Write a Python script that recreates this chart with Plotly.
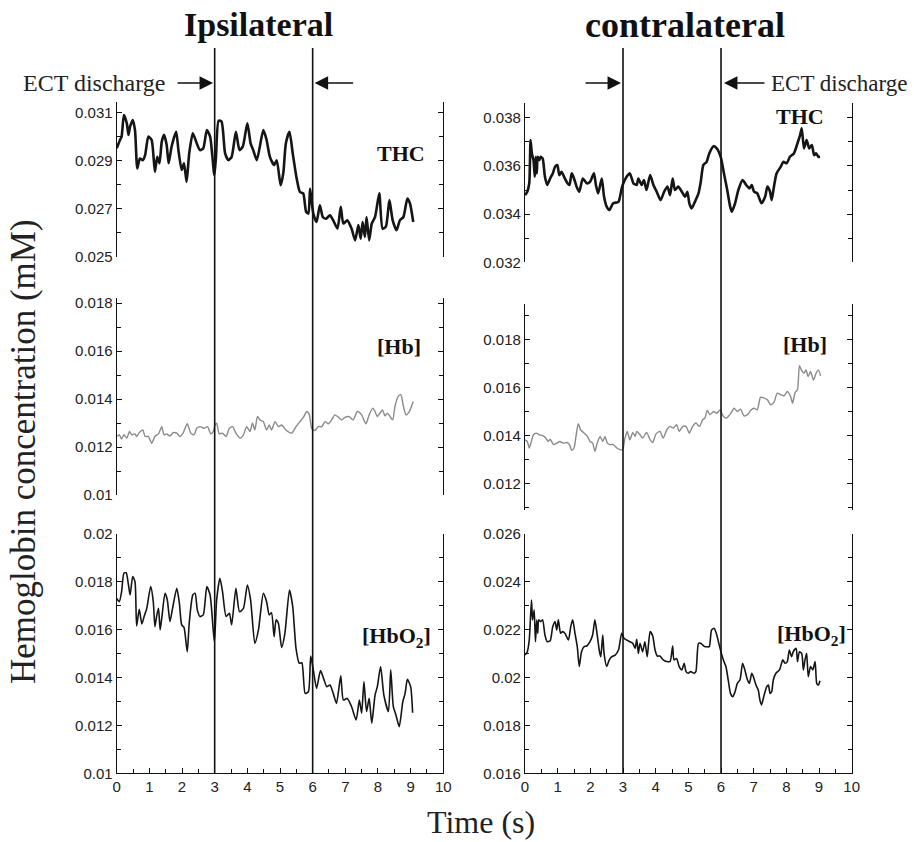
import plotly.graph_objects as go

# ---------------- data (time s, concentration mM) ----------------
thc_ipsi = [(0.00,0.02950),(0.10,0.02985),(0.15,0.02999),(0.22,0.03089),(0.31,0.03054),(0.36,0.03006),(0.41,0.03040),(0.49,0.03068),(0.56,0.03026),(0.63,0.02867),(0.71,0.02908),(0.80,0.02901),(0.87,0.02922),(0.97,0.02999),(1.07,0.02985),(1.17,0.02853),(1.24,0.02915),(1.31,0.02888),(1.38,0.02978),(1.45,0.03006),(1.53,0.02964),(1.59,0.02888),(1.68,0.02957),(1.82,0.03019),(1.89,0.02943),(1.99,0.02860),(2.06,0.02888),(2.14,0.02811),(2.22,0.02929),(2.33,0.03013),(2.45,0.02971),(2.55,0.02943),(2.65,0.02950),(2.76,0.03026),(2.86,0.02999),(2.99,0.02839),(3.04,0.02915),(3.12,0.03065),(3.21,0.03061),(3.32,0.02929),(3.42,0.02901),(3.52,0.02915),(3.65,0.03019),(3.76,0.02943),(3.86,0.02957),(4.00,0.03054),(4.10,0.02971),(4.18,0.02943),(4.29,0.02901),(4.49,0.03026),(4.59,0.02985),(4.69,0.02915),(4.82,0.02881),(4.90,0.02901),(5.02,0.02797),(5.10,0.02846),(5.18,0.02971),(5.29,0.03019),(5.39,0.02929),(5.51,0.02825),(5.61,0.02769),(5.71,0.02763),(5.80,0.02686),(5.87,0.02679),(5.92,0.02783),(6.02,0.02679),(6.12,0.02644),(6.22,0.02714),(6.31,0.02665),(6.41,0.02658),(6.53,0.02672),(6.63,0.02651),(6.76,0.02617),(6.86,0.02707),(6.94,0.02638),(7.06,0.02651),(7.19,0.02617),(7.30,0.02568),(7.40,0.02631),(7.47,0.02575),(7.53,0.02644),(7.60,0.02582),(7.65,0.02665),(7.73,0.02568),(7.81,0.02638),(7.91,0.02665),(8.04,0.02763),(8.14,0.02617),(8.24,0.02624),(8.35,0.02735),(8.45,0.02651),(8.57,0.02610),(8.67,0.02651),(8.78,0.02665),(8.90,0.02742),(8.98,0.02721),(9.08,0.02644)]

thc_contra = [(0.00,0.03479),(0.07,0.03493),(0.13,0.03528),(0.17,0.03707),(0.21,0.03652),(0.26,0.03624),(0.30,0.03555),(0.33,0.03638),(0.36,0.03569),(0.39,0.03638),(0.44,0.03624),(0.48,0.03638),(0.54,0.03631),(0.61,0.03555),(0.68,0.03521),(0.77,0.03548),(0.85,0.03569),(0.92,0.03597),(0.99,0.03604),(1.05,0.03562),(1.12,0.03576),(1.22,0.03548),(1.30,0.03528),(1.36,0.03521),(1.43,0.03569),(1.50,0.03548),(1.58,0.03514),(1.66,0.03493),(1.77,0.03548),(1.89,0.03528),(1.99,0.03534),(2.11,0.03569),(2.17,0.03521),(2.24,0.03486),(2.35,0.03548),(2.42,0.03472),(2.50,0.03431),(2.58,0.03417),(2.70,0.03445),(2.86,0.03451),(2.96,0.03507),(3.01,0.03528),(3.11,0.03555),(3.21,0.03569),(3.32,0.03528),(3.42,0.03521),(3.47,0.03548),(3.57,0.03521),(3.64,0.03541),(3.72,0.03500),(3.83,0.03562),(3.93,0.03521),(4.03,0.03493),(4.15,0.03458),(4.26,0.03493),(4.36,0.03514),(4.44,0.03479),(4.52,0.03548),(4.59,0.03500),(4.69,0.03514),(4.80,0.03493),(4.90,0.03472),(4.97,0.03493),(5.03,0.03445),(5.10,0.03424),(5.20,0.03451),(5.31,0.03486),(5.38,0.03534),(5.46,0.03604),(5.56,0.03617),(5.64,0.03652),(5.77,0.03682),(5.87,0.03673),(5.99,0.03638),(6.09,0.03569),(6.19,0.03500),(6.28,0.03431),(6.33,0.03410),(6.43,0.03445),(6.53,0.03500),(6.66,0.03541),(6.77,0.03521),(6.87,0.03507),(6.94,0.03521),(7.01,0.03493),(7.11,0.03486),(7.24,0.03445),(7.35,0.03472),(7.42,0.03514),(7.50,0.03493),(7.55,0.03458),(7.62,0.03514),(7.70,0.03569),(7.83,0.03597),(7.91,0.03617),(8.01,0.03611),(8.11,0.03638),(8.23,0.03652),(8.34,0.03694),(8.42,0.03728),(8.47,0.03756),(8.54,0.03673),(8.62,0.03707),(8.70,0.03673),(8.78,0.03687),(8.85,0.03645),(8.91,0.03652),(8.98,0.03638),(9.03,0.03638)]

hb_ipsi = [(0.02,0.01244),(0.08,0.01251),(0.15,0.01233),(0.22,0.01251),(0.31,0.01237),(0.39,0.01265),(0.46,0.01251),(0.56,0.01255),(0.61,0.01244),(0.69,0.01260),(0.80,0.01271),(0.87,0.01244),(0.97,0.01244),(1.07,0.01216),(1.17,0.01244),(1.28,0.01255),(1.38,0.01285),(1.45,0.01251),(1.53,0.01255),(1.63,0.01246),(1.73,0.01260),(1.84,0.01258),(1.94,0.01244),(2.04,0.01260),(2.16,0.01297),(2.27,0.01258),(2.37,0.01251),(2.45,0.01278),(2.55,0.01285),(2.67,0.01278),(2.78,0.01285),(2.88,0.01255),(2.96,0.01265),(3.01,0.01292),(3.06,0.01299),(3.14,0.01255),(3.24,0.01258),(3.35,0.01244),(3.45,0.01278),(3.55,0.01285),(3.65,0.01258),(3.78,0.01237),(3.88,0.01251),(3.98,0.01285),(4.08,0.01265),(4.16,0.01299),(4.23,0.01271),(4.31,0.01327),(4.39,0.01313),(4.49,0.01306),(4.59,0.01271),(4.67,0.01292),(4.74,0.01271),(4.85,0.01306),(4.95,0.01285),(5.05,0.01292),(5.18,0.01271),(5.36,0.01258),(5.49,0.01285),(5.61,0.01306),(5.73,0.01327),(5.82,0.01348),(5.90,0.01334),(5.97,0.01278),(6.07,0.01269),(6.17,0.01285),(6.28,0.01285),(6.38,0.01306),(6.48,0.01297),(6.58,0.01313),(6.68,0.01334),(6.79,0.01324),(6.89,0.01313),(6.99,0.01324),(7.12,0.01327),(7.24,0.01313),(7.37,0.01348),(7.50,0.01334),(7.63,0.01297),(7.73,0.01334),(7.84,0.01362),(7.91,0.01348),(7.98,0.01327),(8.06,0.01341),(8.14,0.01355),(8.21,0.01330),(8.29,0.01341),(8.37,0.01327),(8.45,0.01313),(8.52,0.01369),(8.62,0.01411),(8.70,0.01418),(8.78,0.01369),(8.86,0.01334),(8.96,0.01348),(9.08,0.01390)]

hb_contra = [(0.00,0.01383),(0.07,0.01376),(0.13,0.01349),(0.18,0.01369),(0.26,0.01404),(0.34,0.01411),(0.44,0.01404),(0.54,0.01400),(0.64,0.01390),(0.71,0.01376),(0.77,0.01386),(0.87,0.01363),(0.97,0.01369),(1.07,0.01376),(1.17,0.01369),(1.28,0.01372),(1.36,0.01363),(1.43,0.01339),(1.50,0.01349),(1.56,0.01397),(1.63,0.01450),(1.70,0.01425),(1.81,0.01411),(1.91,0.01397),(1.99,0.01376),(2.07,0.01369),(2.14,0.01335),(2.21,0.01369),(2.30,0.01397),(2.38,0.01376),(2.45,0.01397),(2.52,0.01369),(2.60,0.01363),(2.70,0.01363),(2.81,0.01349),(2.91,0.01342),(2.99,0.01342),(3.06,0.01390),(3.13,0.01418),(3.21,0.01383),(3.30,0.01414),(3.37,0.01397),(3.42,0.01418),(3.50,0.01408),(3.60,0.01390),(3.72,0.01414),(3.83,0.01383),(3.91,0.01372),(4.01,0.01408),(4.13,0.01418),(4.23,0.01390),(4.34,0.01425),(4.44,0.01439),(4.54,0.01432),(4.64,0.01446),(4.72,0.01418),(4.83,0.01439),(4.93,0.01439),(5.03,0.01411),(5.13,0.01439),(5.23,0.01453),(5.34,0.01439),(5.44,0.01467),(5.51,0.01474),(5.58,0.01506),(5.66,0.01488),(5.77,0.01501),(5.87,0.01494),(5.97,0.01508),(6.07,0.01481),(6.17,0.01474),(6.30,0.01494),(6.40,0.01515),(6.50,0.01501),(6.60,0.01511),(6.70,0.01483),(6.81,0.01488),(6.91,0.01506),(7.01,0.01515),(7.11,0.01508),(7.21,0.01561),(7.32,0.01557),(7.42,0.01550),(7.52,0.01529),(7.62,0.01539),(7.72,0.01578),(7.83,0.01571),(7.93,0.01567),(8.03,0.01585),(8.13,0.01564),(8.19,0.01536),(8.27,0.01581),(8.34,0.01592),(8.40,0.01692),(8.47,0.01672),(8.54,0.01661),(8.60,0.01675),(8.67,0.01647),(8.74,0.01668),(8.83,0.01633),(8.91,0.01661),(8.98,0.01675),(9.05,0.01650)]

hbo2_ipsi = [(0.00,0.01731),(0.08,0.01717),(0.15,0.01759),(0.22,0.01836),(0.29,0.01838),(0.36,0.01787),(0.41,0.01745),(0.49,0.01822),(0.56,0.01801),(0.61,0.01616),(0.69,0.01685),(0.77,0.01624),(0.84,0.01655),(0.92,0.01689),(1.04,0.01780),(1.12,0.01717),(1.17,0.01613),(1.22,0.01655),(1.28,0.01689),(1.33,0.01599),(1.38,0.01648),(1.48,0.01752),(1.55,0.01724),(1.63,0.01634),(1.71,0.01689),(1.84,0.01773),(1.92,0.01710),(1.99,0.01620),(2.06,0.01610),(2.16,0.01508),(2.22,0.01627),(2.33,0.01745),(2.40,0.01752),(2.47,0.01682),(2.55,0.01655),(2.65,0.01662),(2.76,0.01780),(2.86,0.01745),(2.99,0.01550),(3.06,0.01724),(3.16,0.01815),(3.24,0.01759),(3.35,0.01655),(3.45,0.01669),(3.52,0.01620),(3.65,0.01773),(3.76,0.01675),(3.88,0.01689),(4.00,0.01787),(4.10,0.01724),(4.23,0.01543),(4.34,0.01599),(4.49,0.01752),(4.59,0.01717),(4.67,0.01662),(4.74,0.01671),(4.82,0.01571),(4.88,0.01641),(4.95,0.01627),(5.05,0.01526),(5.15,0.01585),(5.29,0.01766),(5.39,0.01696),(5.49,0.01522),(5.59,0.01460),(5.67,0.01462),(5.77,0.01334),(5.87,0.01341),(5.94,0.01490),(6.02,0.01432),(6.12,0.01355),(6.24,0.01429),(6.35,0.01390),(6.43,0.01362),(6.53,0.01369),(6.63,0.01334),(6.73,0.01292),(6.86,0.01407),(6.94,0.01306),(7.06,0.01313),(7.19,0.01279),(7.33,0.01223),(7.43,0.01306),(7.50,0.01251),(7.57,0.01383),(7.65,0.01258),(7.73,0.01313),(7.81,0.01209),(7.91,0.01327),(7.98,0.01362),(8.08,0.01446),(8.18,0.01327),(8.32,0.01258),(8.39,0.01432),(8.47,0.01279),(8.55,0.01244),(8.65,0.01195),(8.76,0.01299),(8.83,0.01334),(8.90,0.01393),(9.00,0.01362),(9.06,0.01253)]

hbo2_contra = [(0.00,0.02094),(0.07,0.02108),(0.13,0.02157),(0.17,0.02255),(0.20,0.02324),(0.23,0.02241),(0.28,0.02282),(0.32,0.02150),(0.36,0.02241),(0.39,0.02185),(0.42,0.02241),(0.48,0.02234),(0.54,0.02241),(0.61,0.02178),(0.68,0.02150),(0.77,0.02154),(0.85,0.02213),(0.92,0.02234),(0.97,0.02199),(1.02,0.02241),(1.09,0.02185),(1.15,0.02192),(1.22,0.02185),(1.33,0.02157),(1.40,0.02213),(1.46,0.02241),(1.53,0.02185),(1.60,0.02129),(1.66,0.02046),(1.73,0.02108),(1.81,0.02129),(1.89,0.02132),(1.99,0.02150),(2.07,0.02178),(2.14,0.02241),(2.21,0.02178),(2.28,0.02108),(2.32,0.02087),(2.38,0.02178),(2.42,0.02101),(2.50,0.02046),(2.58,0.02074),(2.65,0.02087),(2.76,0.02094),(2.86,0.02115),(2.96,0.02185),(3.03,0.02164),(3.11,0.02157),(3.21,0.02150),(3.30,0.02143),(3.37,0.02122),(3.42,0.02160),(3.47,0.02101),(3.52,0.02143),(3.60,0.02108),(3.67,0.02150),(3.74,0.02087),(3.83,0.02192),(3.91,0.02174),(3.98,0.02115),(4.05,0.02090),(4.13,0.02090),(4.23,0.02074),(4.34,0.02067),(4.44,0.02067),(4.52,0.02132),(4.56,0.02074),(4.64,0.02080),(4.72,0.02046),(4.80,0.02032),(4.87,0.02060),(4.93,0.02025),(5.00,0.02018),(5.07,0.02025),(5.17,0.02018),(5.23,0.02025),(5.31,0.02143),(5.38,0.02143),(5.44,0.02136),(5.51,0.02129),(5.56,0.02129),(5.64,0.02129),(5.71,0.02199),(5.79,0.02206),(5.87,0.02178),(5.97,0.02122),(6.07,0.02074),(6.15,0.02046),(6.22,0.01990),(6.29,0.01934),(6.36,0.01920),(6.43,0.01941),(6.50,0.01976),(6.58,0.01990),(6.66,0.02060),(6.73,0.02032),(6.81,0.01990),(6.87,0.01976),(6.94,0.02018),(6.99,0.02004),(7.07,0.01969),(7.14,0.01948),(7.19,0.01906),(7.24,0.01886),(7.32,0.01927),(7.40,0.01962),(7.45,0.01969),(7.50,0.01934),(7.55,0.01941),(7.60,0.01990),(7.68,0.02018),(7.79,0.02032),(7.89,0.02074),(7.96,0.02060),(8.03,0.02067),(8.09,0.02115),(8.16,0.02087),(8.21,0.02108),(8.30,0.02122),(8.34,0.02067),(8.40,0.02108),(8.47,0.02101),(8.52,0.02032),(8.57,0.02074),(8.62,0.02101),(8.67,0.02004),(8.74,0.02046),(8.81,0.02032),(8.88,0.02067),(8.93,0.01976),(8.98,0.01969),(9.03,0.01987)]

ect_times = [3, 6]
x_ticks = [0, 1, 2, 3, 4, 5, 6, 7, 8, 9, 10]
yticks_thc_ipsi = ["0.025", "0.027", "0.029", "0.031"]
yticks_thc_contra = ["0.032", "0.034", "0.036", "0.038"]
yticks_hb_ipsi = ["0.01", "0.012", "0.014", "0.016", "0.018"]
yticks_hb_contra = ["0.012", "0.014", "0.016", "0.018"]
yticks_hbo2_ipsi = ["0.01", "0.012", "0.014", "0.016", "0.018", "0.02"]
yticks_hbo2_contra = ["0.016", "0.018", "0.02", "0.022", "0.024", "0.026"]

# ---------------- layout helpers ----------------
W, H = 914, 842
def px_x(p): return p / W
def px_y(p): return 1 - p / H

SERIF = "Liberation Serif"
SANS = "Liberation Sans"
TICKFONT = dict(family=SANS, size=15, color="#222")

fig = go.Figure()

panels = [
    # (series, axis index, color, width, yrange, yticks, ydomain px (top,bottom), column)
    (thc_ipsi, 1, "#151515", 2.6, [0.025, 0.03144], yticks_thc_ipsi, (101.7, 256.7), 0),
    (thc_contra, 2, "#151515", 2.6, [0.032, 0.0386], yticks_thc_contra, (103.3, 262.3), 1),
    (hb_ipsi, 3, "#8a8a8a", 1.4, [0.01, 0.0182], yticks_hb_ipsi, (298.3, 495.0), 0),
    (hb_contra, 4, "#8a8a8a", 1.4, [0.0109, 0.0195], yticks_hb_contra, (304.0, 510.0), 1),
    (hbo2_ipsi, 5, "#151515", 1.6, [0.01, 0.02], yticks_hbo2_ipsi, (534.0, 773.3), 0),
    (hbo2_contra, 6, "#151515", 1.6, [0.016, 0.026], yticks_hbo2_contra, (534.0, 773.3), 1),
]

xdom = [(116.7, 443.3), (525.0, 851.7)]

for series, idx, color, width, yr, ytl, (ytop, ybot), col in panels:
    t = [p[0] for p in series]
    v = [p[1] for p in series]
    sfx = "" if idx == 1 else str(idx)
    fig.add_trace(go.Scatter(x=t, y=v, mode="lines",
                             line=dict(color=color, width=width, shape="spline", smoothing=0.6),
                             xaxis="x" + sfx, yaxis="y" + sfx, showlegend=False,
                             hoverinfo="skip"))
    bottom = idx in (5, 6)
    xa = dict(domain=[px_x(xdom[col][0]), px_x(xdom[col][1])], range=[0, 10],
              anchor="y" + sfx, showgrid=False, zeroline=False, automargin=False,
              visible=bottom)
    if bottom:
        xa.update(showline=True, linecolor="#111", linewidth=1.2,
                  ticks="inside", ticklen=5, tickcolor="#111", tickwidth=1,
                  tickvals=x_ticks, ticktext=[str(k) for k in x_ticks],
                  minor=dict(dtick=0.5, tick0=0, ticks="inside", ticklen=4, tickcolor="#111"),
                  tickfont=TICKFONT)
    ya = dict(domain=[px_y(ybot), px_y(ytop)], range=yr, anchor="x" + sfx,
              showgrid=False, zeroline=False, showline=True, mirror="ticks",
              automargin=False,
              linecolor="#111", linewidth=1.2, ticks="inside", ticklen=5,
              tickcolor="#111", tickwidth=1,
              tickvals=[float(s) for s in ytl], ticktext=ytl,
              minor=dict(dtick=0.001, tick0=0, ticks="inside", ticklen=4, tickcolor="#111"),
              tickfont=TICKFONT)
    fig.update_layout({("xaxis" + sfx): xa, ("yaxis" + sfx): ya})

# vertical ECT lines
for xref in ("x5", "x6"):
    for tt in ect_times:
        fig.add_shape(type="line", xref=xref, yref="paper", x0=tt, x1=tt,
                      y0=px_y(773.3), y1=px_y(48), line=dict(color="#111", width=1.6))

ann = []
# arrows
arrow_y = px_y(83)
for xref, head, ax in (("x5", 2.95, -37), ("x5", 6.06, 40), ("x6", 2.94, -37), ("x6", 6.09, 42)):
    ann.append(dict(xref=xref, yref="paper", x=head, y=arrow_y, ax=ax, ay=0,
                    showarrow=True, arrowhead=2, arrowsize=1.8, arrowwidth=1.5,
                    arrowcolor="#111", text=""))

def label(text, cx, cy, size, angle=0, color="#222"):
    return dict(xref="paper", yref="paper", x=px_x(cx), y=px_y(cy), text=text,
                xanchor="center", yanchor="middle", textangle=angle, showarrow=False,
                font=dict(family=SERIF, size=size, color=color))

ann.append(label("ECT discharge", 93.5, 83, 24))
ann.append(label("ECT discharge", 839, 83, 23))
ann.append(label("<b>Ipsilateral</b>", 258, 25, 34, color="#111"))
ann.append(label("<b>contralateral</b>", 685, 25, 36, color="#111"))
for txt, cx, cy in (("THC", 401, 154), ("THC", 800, 116), ("[Hb]", 399, 347), ("[Hb]", 805, 345),
                    ("[HbO<sub>2</sub>]", 396, 637), ("[HbO<sub>2</sub>]", 811, 635)):
    ann.append(label("<b>" + txt + "</b>", cx, cy, 22, color="#111"))
ann.append(label("Hemoglobin concentration (mM)", 23, 452, 35, angle=-90))
ann.append(label("Time (s)", 481, 822, 32))

fig.update_layout(width=W, height=H, margin=dict(l=0, r=0, t=0, b=0, autoexpand=False),
                  paper_bgcolor="white", plot_bgcolor="white", annotations=ann,
                  showlegend=False)

fig.write_html("out.html", config={"displayModeBar": False},
               post_script="document.body.style.margin='0px';")
